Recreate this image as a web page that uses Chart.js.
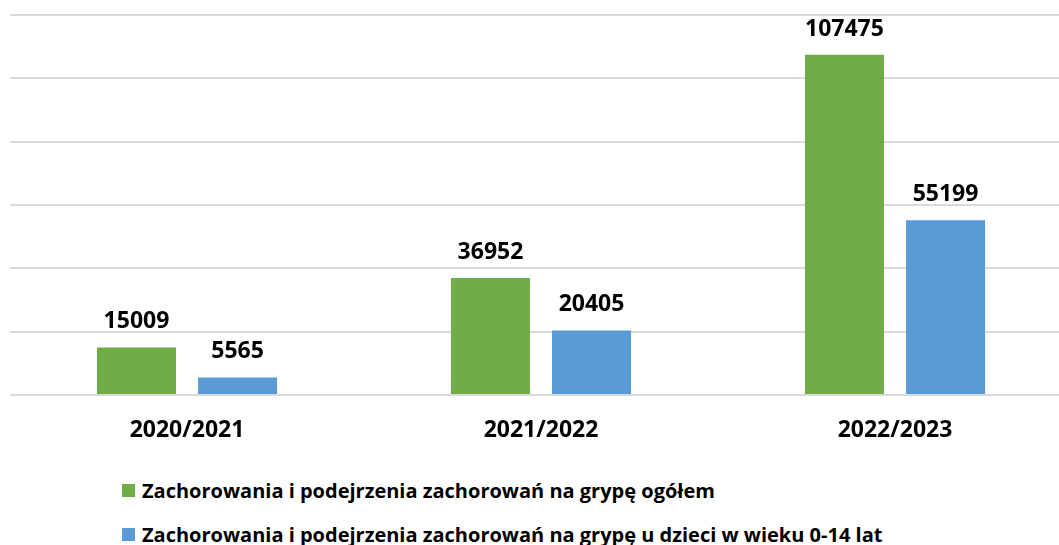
<!DOCTYPE html>
<html>
<head>
<meta charset="utf-8">
<script src="https://cdn.jsdelivr.net/npm/chart.js@4/dist/chart.umd.min.js"></script>
<style>
  html, body { margin: 0; padding: 0; background: #fff; overflow: hidden; }
  #wrap { position: relative; width: 1072px; height: 460px; }
  #legend { position: absolute; left: 122px; top: 479px; font-family: "Open Sans", sans-serif; font-weight: bold; font-size: 20px; color: #000; }
  .item { display: flex; align-items: center; height: 22px; margin-bottom: 22px; white-space: nowrap; }
  .box { width: 13px; height: 13px; margin-right: 7px; flex: none; }
</style>
</head>
<body>
<div id="wrap"><canvas id="chart"></canvas></div>
<div id="legend"></div>
<script>
  // Sezony i wartości
  const seasons = ['2020/2021', '2021/2022', '2022/2023'];
  const totalCases = [15009, 36952, 107475];
  const childCases = [5565, 20405, 55199];
  const seriesNames = [
    'Zachorowania i podejrzenia zachorowań na grypę ogółem',
    'Zachorowania i podejrzenia zachorowań na grypę u dzieci w wieku 0-14 lat'
  ];
  const seriesColors = ['#70AD47', '#5B9BD5'];

  // Value labels above bars
  const valueLabels = {
    id: 'valueLabels',
    afterDatasetsDraw(chart) {
      const ctx = chart.ctx;
      ctx.save();
      ctx.font = 'bold 23px "Open Sans"';
      ctx.fillStyle = '#000';
      ctx.textAlign = 'center';
      ctx.textBaseline = 'alphabetic';
      chart.data.datasets.forEach((ds, i) => {
        chart.getDatasetMeta(i).data.forEach((bar, j) => {
          ctx.fillText(String(ds.data[j]), bar.x, bar.y - 19);
        });
      });
      ctx.restore();
    }
  };

  const canvas = document.getElementById('chart');
  canvas.width = 1072;
  canvas.height = 460;

  new Chart(canvas.getContext('2d'), {
    type: 'bar',
    data: {
      labels: seasons,
      datasets: [
        { label: seriesNames[0], data: totalCases, backgroundColor: seriesColors[0] },
        { label: seriesNames[1], data: childCases, backgroundColor: seriesColors[1] }
      ]
    },
    options: {
      responsive: false,
      animation: false,
      layout: { padding: { left: 10, right: 0, top: 15, bottom: 0 } },
      datasets: {
        bar: { barPercentage: 0.782, categoryPercentage: 0.571 }
      },
      scales: {
        x: {
          grid: { display: false },
          border: { display: false },
          ticks: {
            color: '#000',
            padding: 14,
            font: { family: '"Open Sans"', size: 23, weight: 'bold' }
          },
          afterFit: scale => { scale.height = 65; }
        },
        y: {
          min: 0,
          max: 120000,
          ticks: { display: false, stepSize: 20000 },
          border: { display: false },
          grid: { color: '#d9d9d9', lineWidth: 2, drawTicks: false },
          afterFit: scale => { scale.width = 0; }
        }
      },
      plugins: {
        legend: { display: false },
        tooltip: { enabled: false }
      }
    },
    plugins: [valueLabels]
  });

  // Legend below the chart
  const legend = document.getElementById('legend');
  seriesNames.forEach((name, i) => {
    const row = document.createElement('div');
    row.className = 'item';
    row.innerHTML = `<span class="box" style="background:${seriesColors[i]}"></span><span>${name}</span>`;
    legend.appendChild(row);
  });
</script>
</body>
</html>
